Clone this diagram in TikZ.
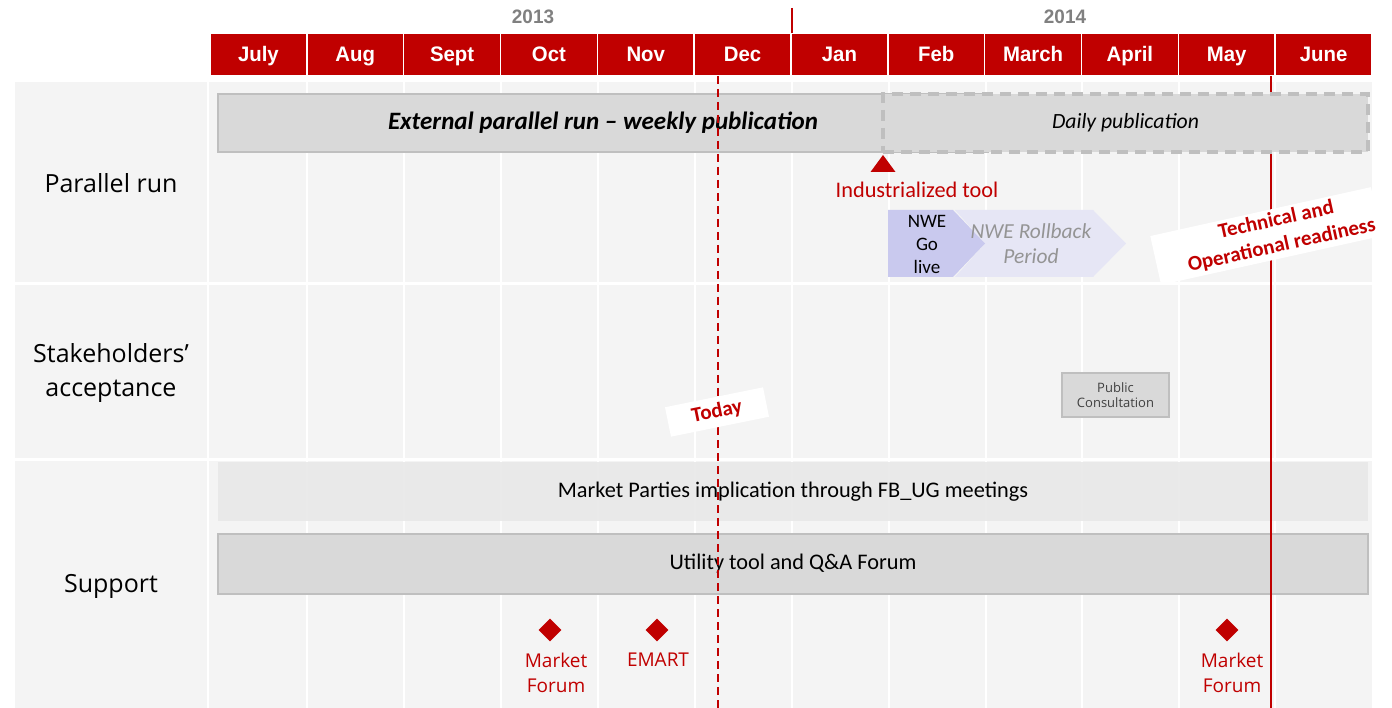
\documentclass[tikz,border=0pt]{standalone}
\usepackage{fontspec}
\setmainfont{Carlito}
\newfontfamily\narrowfont[FakeStretch=0.97]{Liberation Sans}
\newfontfamily\segoe{Open Sans}
\usetikzlibrary{shapes.geometric}
\definecolor{hred}{HTML}{C00000}
\definecolor{bgc}{HTML}{F4F4F4}
\definecolor{barc}{HTML}{D9D9D9}
\definecolor{bard}{HTML}{BFBFBF}
\definecolor{lbar}{HTML}{E8E8E8}
\definecolor{chevA}{HTML}{C9C9EE}
\definecolor{chevB}{HTML}{E6E6F5}
\newcommand{\fsz}[2]{\fontsize{#1}{#2}\selectfont}
\tikzset{
  month/.style={fill=hred, draw=white, line width=1.5pt, inner sep=0pt,
    minimum width=96.83pt, minimum height=43pt, text=white,
    text height=15pt, text depth=0pt,
    font=\narrowfont\bfseries\fsz{21}{21}},
  year/.style={text=black!50, font=\narrowfont\bfseries\fsz{19.5}{19.5}},
  rowlabel/.style={align=center, font=\segoe\fsz{25}{34}},
  bar/.style={fill=barc, draw=bard, line width=1.5pt, inner sep=0pt},
  redtxt/.style={text=hred, align=center},
  gridline/.style={white, line width=2pt},
  ms/.style={diamond, fill=hred, inner sep=0pt, minimum size=23pt},
}
\begin{document}
\begin{tikzpicture}[x=1pt,y=-1pt]
\useasboundingbox (0,0) rectangle (1392,708);
\fill[white] (0,0) rectangle (1392,708);
\fill[bgc] (15,82) rectangle (1372,708);
% grid
\foreach \x in {208,307,404,501,598,695,792,889,986,1082,1179,1275}
  \draw[gridline] (\x,82) -- (\x,708);
\draw[white, line width=3pt] (15,284) -- (1372,284);
\draw[white, line width=3pt] (15,459) -- (1372,459);
% header
\foreach \m [count=\i] in {July,Aug,Sept,Oct,Nov,Dec,Jan,Feb,March,April,May,June}
  \node[month] (m\i) at ({210+(\i-0.5)*96.83},54.5) {\m};
\node[year] (y2013) at (533,17) {2013};
\node[year] (y2014) at (1065,17) {2014};
\coordinate (yt1) at (792,8);
\coordinate (yt2) at (792,33);
\draw[hred, line width=2pt] (yt1) -- (yt2);
% row labels
\node[rowlabel] (lpr) at (111,183) {Parallel run};
\node[rowlabel] (lsa) at (111,373) {Stakeholders’\\acceptance};
\node[rowlabel] (lsu) at (111,586) {Support};
% support bars
\node[fill=lbar, fill opacity=0.88, text opacity=1, inner sep=0pt, minimum width=1150pt, minimum height=59pt,
  font=\fsz{22.3}{22.3}] (mp) at (793,491.5) {Market Parties implication through FB\_UG meetings};
\node[bar, minimum width=1150pt, minimum height=60pt, font=\fsz{22.3}{22.3}] (ut) at (793,564) {Utility tool and Q\&A Forum};
% readiness line
\coordinate (rtop) at (1271,76);
\coordinate (rbot) at (1271,708);
\draw[hred, line width=2.8pt] (rtop) -- (rbot);
% parallel run bars
\node[bar, minimum width=770pt, minimum height=58pt, font=\bfseries\itshape\fsz{25}{25}] (ext) at (603,123)
  {External parallel run -- weekly publication};
\node[fill=barc, draw=bard, line width=3.5pt, dash pattern=on 11pt off 7pt, inner sep=0pt,
  minimum width=485pt, minimum height=58pt, font=\itshape\fsz{21.7}{21.7}] (daily) at (1125.5,123) {Daily publication};
% industrialized tool
\coordinate (tri) at (883,155);
\fill[hred] (tri) -- ++(12.5,17) -- ++(-25,0) -- cycle;
\node[redtxt, font=\fsz{22.3}{22.3}] (ind) at (917,190) {Industrialized tool};
% chevrons
\fill[chevB] (955,210) -- (1093,210) -- (1126,243.5) -- (1093,277) -- (955,277) -- (985,243.5) -- cycle;
\fill[chevA] (888,210) -- (953,210) -- (985,243.5) -- (953,277) -- (888,277) -- cycle;
\node[align=center, font=\fsz{19}{23}] (nwe) at (927,244) {NWE\\Go\\live};
\node[align=center, text=black!42, font=\itshape\fsz{21.4}{25}] (rb) at (1031,244) {NWE Rollback\\Period};
% technical readiness
\node[fill=white, rotate=12.5, minimum width=226pt, minimum height=50pt, inner sep=0pt] (techbox) at (1266,236) {};
\node[rotate=12.5, inner sep=0pt, redtxt, font=\bfseries\fsz{21}{26}] (tech) at (1279,233) {Technical and\\Operational readiness};
% public consultation
\node[bar, minimum width=107pt, minimum height=44pt, align=center, text=black!75,
  font=\segoe\fsz{13}{15}] (pc) at (1115.5,395) {Public\\Consultation};
% milestones
\node[ms] (d1) at (550,630) {};
\node[ms] (d2) at (657,630) {};
\node[ms] (d3) at (1227,630) {};
\node[redtxt, font=\segoe\fsz{19}{25}] (t1) at (556,673) {Market\\Forum};
\node[redtxt, font=\segoe\fsz{19}{25}] (t2) at (658,660) {EMART};
\node[redtxt, font=\segoe\fsz{19}{25}] (t3) at (1232,673) {Market\\Forum};
% today line
\coordinate (ttop) at (718,76);
\coordinate (tbot) at (718,708);
\draw[hred, line width=2pt, dash pattern=on 8pt off 5pt] (ttop) -- (tbot);
\node[fill=white, rotate=11.5, minimum width=100pt, minimum height=30pt, inner sep=0pt,
  redtxt, font=\bfseries\fsz{21}{21}] (today) at (717,412) {Today};
\end{tikzpicture}
\end{document}
